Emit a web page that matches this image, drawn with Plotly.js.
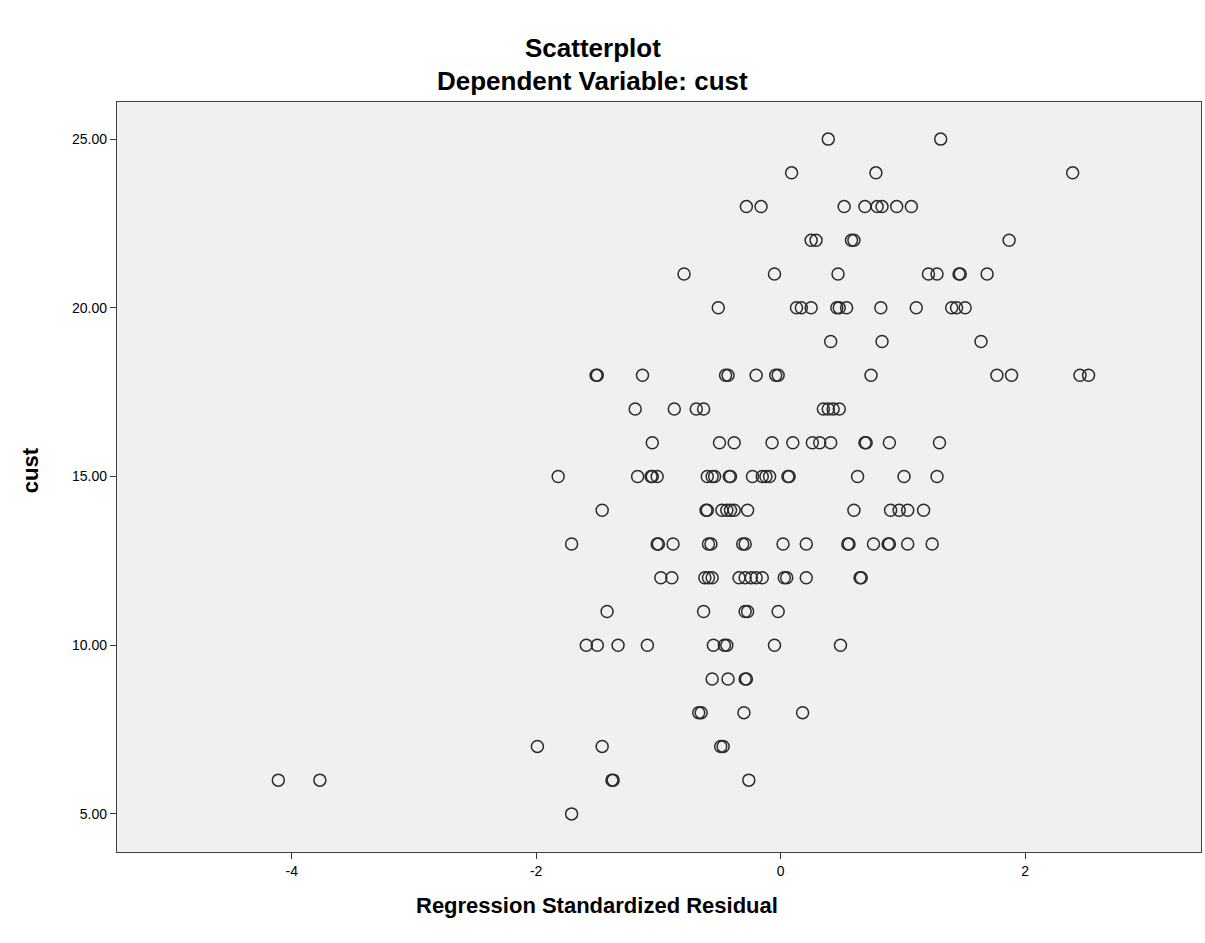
<!DOCTYPE html>
<html>
<head>
<meta charset="utf-8">
<script src="https://cdn.plot.ly/plotly-3.0.1.min.js"></script>
<style>html,body{margin:0;padding:0;background:#fff;}#chart{width:1205px;height:943px;}</style>
</head>
<body>
<div id="chart"></div>
<script>
// Regression standardized residual (x) for each value of cust (y), read row by row
const cust25 = [0.39, 1.31];
const cust24 = [0.09, 0.78, 2.39];
const cust23 = [-0.28, -0.16, 0.52, 0.69, 0.79, 0.83, 0.95, 1.07];
const cust22 = [0.25, 0.29, 0.58, 0.60, 1.87];
const cust21 = [-0.79, -0.05, 0.47, 1.21, 1.28, 1.46, 1.47, 1.69];
const cust20 = [-0.51, 0.13, 0.17, 0.25, 0.46, 0.48, 0.54, 0.82, 1.11, 1.40, 1.44, 1.51];
const cust19 = [0.41, 0.83, 1.64];
const cust18 = [-1.51, -1.50, -1.13, -0.45, -0.43, -0.20, -0.04, -0.02, 0.74, 1.77, 1.89, 2.45, 2.52];
const cust17 = [-1.19, -0.87, -0.69, -0.63, 0.35, 0.39, 0.43, 0.48];
const cust16 = [-1.05, -0.50, -0.38, -0.07, 0.10, 0.26, 0.32, 0.41, 0.69, 0.70, 0.89, 1.30];
const cust15 = [-1.82, -1.17, -1.06, -1.05, -1.01, -0.60, -0.56, -0.54, -0.42, -0.41, -0.23, -0.15, -0.12, -0.09, 0.06, 0.07, 0.63, 1.01, 1.28];
const cust14 = [-1.46, -0.61, -0.60, -0.48, -0.44, -0.41, -0.38, -0.27, 0.60, 0.90, 0.97, 1.04, 1.17];
const cust13 = [-1.71, -1.01, -1.00, -0.88, -0.59, -0.57, -0.31, -0.29, 0.02, 0.21, 0.55, 0.56, 0.76, 0.88, 0.89, 1.04, 1.24];
const cust12 = [-0.98, -0.89, -0.62, -0.59, -0.56, -0.34, -0.29, -0.24, -0.20, -0.15, 0.03, 0.05, 0.21, 0.65, 0.66];
const cust11 = [-1.42, -0.63, -0.29, -0.27, -0.02];
const cust10 = [-1.59, -1.50, -1.33, -1.09, -0.55, -0.46, -0.44, -0.05, 0.49];
const cust9 = [-0.56, -0.43, -0.29, -0.28];
const cust8 = [-0.67, -0.65, -0.30, 0.18];
const cust7 = [-1.99, -1.46, -0.49, -0.47];
const cust6 = [-4.11, -3.77, -1.38, -1.37, -0.26];
const cust5 = [-1.71];

const custLevels = [25, 24, 23, 22, 21, 20, 19, 18, 17, 16, 15, 14, 13, 12, 11, 10, 9, 8, 7, 6, 5];
const residualRows = [cust25, cust24, cust23, cust22, cust21, cust20, cust19, cust18, cust17, cust16, cust15, cust14, cust13, cust12, cust11, cust10, cust9, cust8, cust7, cust6, cust5];

const xTicks = [-4, -2, 0, 2];
const yTicks = [5, 10, 15, 20, 25];

const xs = [], ys = [];
residualRows.forEach((row, i) => {
  row.forEach(v => { xs.push(v); ys.push(custLevels[i]); });
});

const FONT = 'Liberation Sans, Arial, sans-serif';

const trace = {
  type: 'scatter',
  mode: 'markers',
  x: xs,
  y: ys,
  marker: {symbol: 'circle-open', size: 12, color: '#2b2b2b', line: {width: 1.5}},
  hoverinfo: 'x+y'
};

const layout = {
  width: 1205,
  height: 943,
  margin: {l: 117, r: 4, t: 102, b: 91},
  paper_bgcolor: '#ffffff',
  plot_bgcolor: '#f0f0f0',
  showlegend: false,
  font: {family: FONT, color: '#000000', size: 14},
  xaxis: {
    range: [-5.43, 3.44],
    tickvals: xTicks,
    ticktext: xTicks.map(String),
    ticks: 'outside', ticklen: 6, tickwidth: 1, tickcolor: '#333',
    showgrid: false, zeroline: false,
    showline: true, mirror: true, linecolor: '#404040', linewidth: 1.2,
    tickfont: {family: FONT, size: 14, color: '#000'}
  },
  yaxis: {
    range: [3.87, 26.1],
    tickvals: yTicks,
    ticktext: yTicks.map(v => v.toFixed(2)),
    ticks: 'outside', ticklen: 6, tickwidth: 1, tickcolor: '#333',
    showgrid: false, zeroline: false,
    showline: true, mirror: true, linecolor: '#404040', linewidth: 1.2,
    tickfont: {family: FONT, size: 14, color: '#000'}
  },
  annotations: [
    {text: '<b>Scatterplot</b>', xref: 'paper', yref: 'paper', x: 0.439, y: 1.072, xanchor: 'center', yanchor: 'middle', showarrow: false, font: {family: FONT, size: 26, color: '#000'}},
    {text: '<b>Dependent Variable: cust</b>', xref: 'paper', yref: 'paper', x: 0.439, y: 1.028, xanchor: 'center', yanchor: 'middle', showarrow: false, font: {family: FONT, size: 26, color: '#000'}},
    {text: '<b>Regression Standardized Residual</b>', xref: 'paper', yref: 'paper', x: 0.443, y: -0.0707, xanchor: 'center', yanchor: 'middle', showarrow: false, font: {family: FONT, size: 22, color: '#000'}},
    {text: '<b>cust</b>', xref: 'paper', yref: 'paper', x: -0.0803, y: 0.509, xanchor: 'center', yanchor: 'middle', textangle: -90, showarrow: false, font: {family: FONT, size: 22, color: '#000'}}
  ]
};

Plotly.newPlot('chart', [trace], layout, {displayModeBar: false, staticPlot: true});
</script>
</body>
</html>
